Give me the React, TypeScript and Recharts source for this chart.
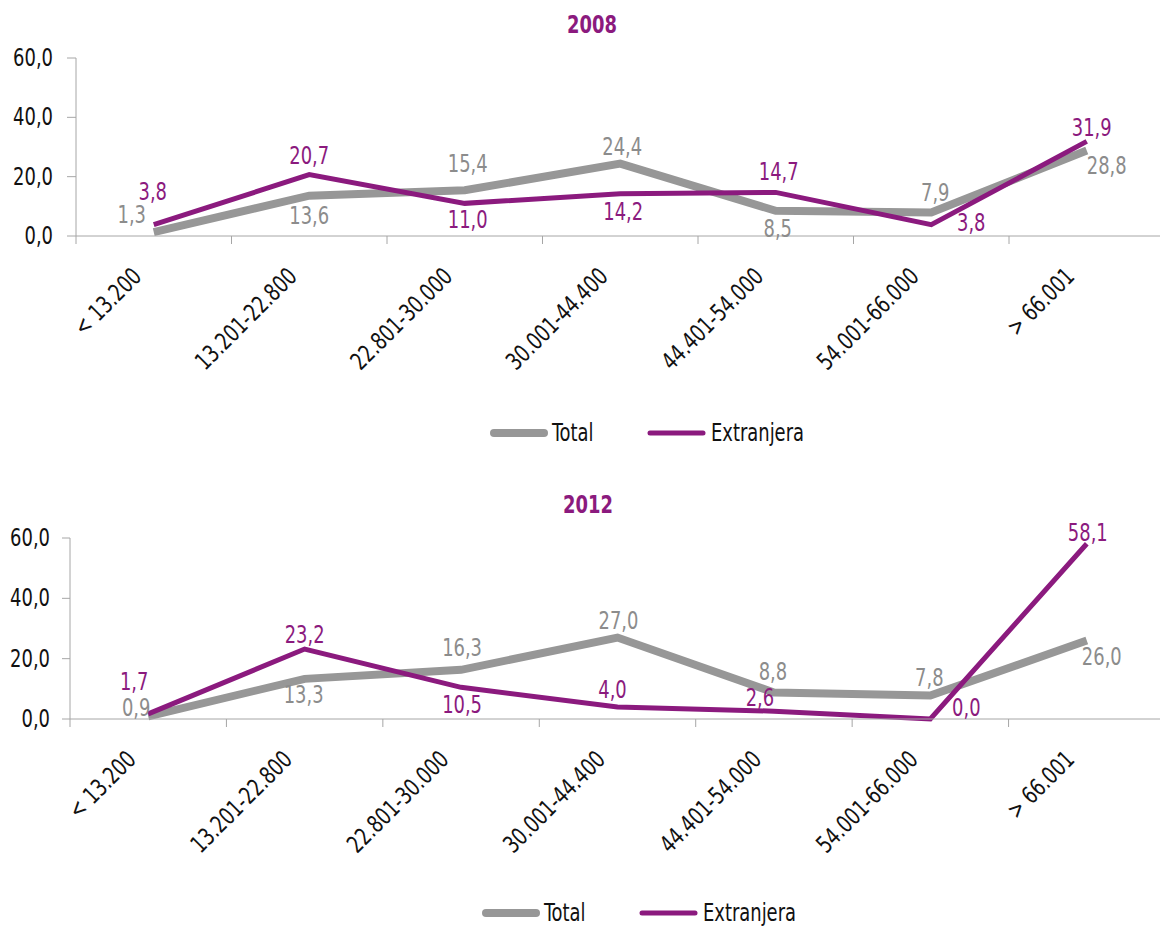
import React from 'react';
import { LineChart, Line, XAxis, YAxis, Legend, LabelList } from 'recharts';

const categories = [
  '< 13.200',
  '13.201-22.800',
  '22.801-30.000',
  '30.001-44.400',
  '44.401-54.000',
  '54.001-66.000',
  '> 66.001',
];

const total2008 = [1.3, 13.6, 15.4, 24.4, 8.5, 7.9, 28.8];
const extranjera2008 = [3.8, 20.7, 11.0, 14.2, 14.7, 3.8, 31.9];
const total2012 = [0.9, 13.3, 16.3, 27.0, 8.8, 7.8, 26.0];
const extranjera2012 = [1.7, 23.2, 10.5, 4.0, 2.6, 0.0, 58.1];

const yTicks = [0, 20, 40, 60];

// where each value label sits relative to its point (dx, dy)
const totalLabels2008 = [[-22, -17], [0, 20], [3, -26], [2, -17], [2, 18], [4, -20], [20, 15]];
const extranjeraLabels2008 = [[-1, -33], [0, -19], [3, 16], [3, 18], [3, -21], [40, -2], [5, -14]];
const totalLabels2012 = [[-12, -8], [-1, 16], [1, -22], [1, -17], [-1, -21], [-1, -18], [15, 16]];
const extranjeraLabels2012 = [[-14, -32], [0, -14], [1, 18], [-5, -17], [-14, -13], [36, -11], [1, -11]];

const FONT = "'Liberation Sans Narrow', 'DejaVu Sans Condensed', 'Roboto', sans-serif";
const NARROW = 0.83; // squeeze the fallback font to the condensed look of the original
const GRAY = '#979797';
const GRAY_TEXT = '#8c8c8c';
const PURPLE = '#8b1a7e';
const AXIS = '#a6a6a6';
const INK = '#111';
const CHART_W = 1170;

const fmt = (v: number) => v.toFixed(1).replace('.', ',');

interface PanelProps {
  title: string;
  total: number[];
  extranjera: number[];
  totalLabels: number[][];
  extranjeraLabels: number[][];
  top: number;
  height: number;
  marginTop: number;
  yAxisWidth: number;
  marginRight: number;
  xAxisHeight: number;
  tickSize: number;
  tickMargin: number;
  legendLeft: number;
  titleX: number;
  titleY: number;
}

function makeLabel(offsets: number[][], color: string) {
  return (props: any) => {
    const { x, y, index, value } = props;
    const off = offsets[index] || [0, -12];
    return (
      <g transform={`translate(${Number(x) + off[0]},${Number(y) + off[1]}) scale(${NARROW},1)`}>
        <text
          x={0}
          y={0}
          fill={color}
          fontSize={24}
          fontFamily={FONT}
          textAnchor="middle"
          dominantBaseline="central"
        >
          {fmt(Number(value))}
        </text>
      </g>
    );
  };
}

const renderYTick = (props: any) => {
  const { x, y, payload } = props;
  return (
    <g transform={`translate(${x},${y}) scale(${NARROW},1)`}>
      <text x={0} y={0} textAnchor="end" dominantBaseline="central" fill={INK} fontSize={24} fontFamily={FONT}>
        {fmt(payload.value)}
      </text>
    </g>
  );
};

const renderLegend = () => (
  <svg width={340} height={30} style={{ display: 'block' }}>
    <line x1={4} x2={54} y1={15} y2={15} stroke={GRAY} strokeWidth={8} strokeLinecap="round" />
    <g transform={`translate(62,15) scale(${NARROW},1)`}>
      <text x={0} y={0} dominantBaseline="central" fill={INK} fontSize={24} fontFamily={FONT}>
        Total
      </text>
    </g>
    <line x1={160} x2={213} y1={15} y2={15} stroke={PURPLE} strokeWidth={5} strokeLinecap="round" />
    <g transform={`translate(221,15) scale(${NARROW},1)`}>
      <text x={0} y={0} dominantBaseline="central" fill={INK} fontSize={24} fontFamily={FONT}>
        Extranjera
      </text>
    </g>
  </svg>
);

function Panel(p: PanelProps) {
  const data = categories.map((c, i) => ({
    category: c,
    total: p.total[i],
    extranjera: p.extranjera[i],
  }));
  const band = (CHART_W - p.yAxisWidth - p.marginRight) / categories.length;

  const renderXTick = (props: any) => {
    const { x, y, payload } = props;
    return (
      <g>
        <line x1={x - band / 2} x2={x - band / 2} y1={y} y2={y + 8} stroke={AXIS} strokeWidth={1} />
        <g transform={`translate(${x - 11},${y + 42}) rotate(-45) scale(${NARROW},1)`}>
          <text x={0} y={0} textAnchor="end" fill={INK} fontSize={24} fontFamily={FONT}>
            {payload.value}
          </text>
        </g>
      </g>
    );
  };

  return (
    <>
      <div
        style={{
          position: 'absolute',
          left: p.titleX - 100,
          top: p.titleY - 15,
          width: 200,
          height: 30,
          lineHeight: '30px',
          textAlign: 'center',
          fontFamily: FONT,
          fontWeight: 'bold',
          fontSize: 24,
          color: PURPLE,
          transform: `scaleX(${NARROW})`,
        }}
      >
        {p.title}
      </div>
      <div style={{ position: 'absolute', left: 0, top: p.top }}>
        <LineChart
          width={CHART_W}
          height={p.height}
          data={data}
          margin={{ top: p.marginTop, right: p.marginRight, bottom: 0, left: 0 }}
        >
          <XAxis
            dataKey="category"
            interval={0}
            height={p.xAxisHeight}
            padding={{ left: band / 2, right: band / 2 }}
            tickLine={false}
            tickSize={0}
            tickMargin={0}
            axisLine={{ stroke: AXIS }}
            tick={renderXTick}
          />
          <YAxis
            width={p.yAxisWidth}
            domain={[0, 60]}
            ticks={yTicks}
            interval={0}
            tickSize={p.tickSize}
            tickMargin={p.tickMargin}
            tickLine={{ stroke: AXIS }}
            axisLine={{ stroke: AXIS }}
            tick={renderYTick}
          />
          <Legend
            verticalAlign="bottom"
            height={30}
            content={renderLegend}
            wrapperStyle={{ left: p.legendLeft, width: 340 }}
          />
          <Line
            dataKey="total"
            name="Total"
            stroke={GRAY}
            strokeWidth={8}
            dot={false}
            activeDot={false}
            isAnimationActive={false}
          >
            <LabelList dataKey="total" content={makeLabel(p.totalLabels, GRAY_TEXT)} />
          </Line>
          <Line
            dataKey="extranjera"
            name="Extranjera"
            stroke={PURPLE}
            strokeWidth={5}
            dot={false}
            activeDot={false}
            isAnimationActive={false}
          >
            <LabelList dataKey="extranjera" content={makeLabel(p.extranjeraLabels, PURPLE)} />
          </Line>
        </LineChart>
      </div>
    </>
  );
}

export default function App() {
  return (
    <div
      style={{
        position: 'absolute',
        left: 0,
        top: 0,
        width: 1160,
        height: 926,
        overflow: 'hidden',
        background: '#fff',
        fontFamily: FONT,
      }}
    >
      <Panel
        title="2008"
        total={total2008}
        extranjera={extranjera2008}
        totalLabels={totalLabels2008}
        extranjeraLabels={extranjeraLabels2008}
        top={0}
        height={448}
        marginTop={58}
        yAxisWidth={76}
        marginRight={5.5}
        xAxisHeight={182}
        tickSize={9}
        tickMargin={14}
        legendLeft={490}
        titleX={592}
        titleY={25}
      />
      <Panel
        title="2012"
        total={total2012}
        extranjera={extranjera2012}
        totalLabels={totalLabels2012}
        extranjeraLabels={extranjeraLabels2012}
        top={470}
        height={458}
        marginTop={68}
        yAxisWidth={70}
        marginRight={5}
        xAxisHeight={179}
        tickSize={8}
        tickMargin={12}
        legendLeft={482}
        titleX={588}
        titleY={505}
      />
    </div>
  );
}
